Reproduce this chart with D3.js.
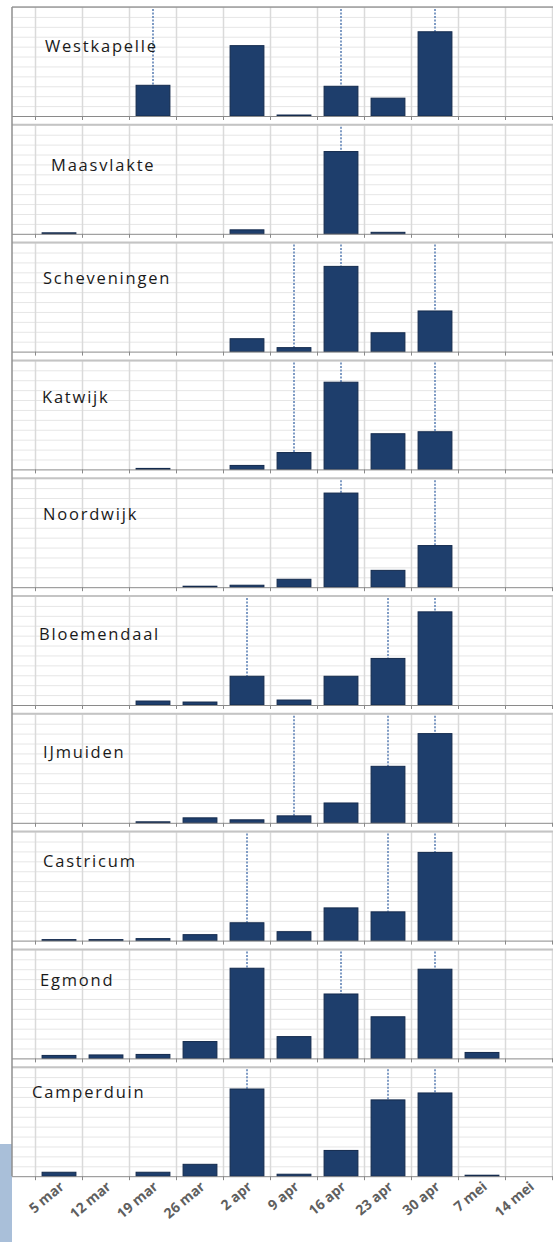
<!DOCTYPE html>
<html>
<head>
<meta charset="utf-8">
<script src="https://d3js.org/d3.v7.min.js"></script>
<title>Stations per week</title>
<style>
  body { margin: 0; background: #fff; }
  svg { display: block; }
  .station { font-family: "Open Sans", "DejaVu Sans", sans-serif; font-size: 16.5px; letter-spacing: 1.8px; fill: #1a1a1a; }
  .xlab { font-family: "Open Sans", "DejaVu Sans", sans-serif; font-size: 14px; font-weight: 700; fill: #5f5f5f; }
</style>
</head>
<body>
<div id="chart"></div>
<script>
// weeks on the x axis
const categories = ["5 mar", "12 mar", "19 mar", "26 mar", "2 apr", "9 apr", "16 apr", "23 apr", "30 apr", "7 mei", "14 mei"];

// station names, top to bottom
const stations = ["Westkapelle", "Maasvlakte", "Scheveningen", "Katwijk", "Noordwijk",
                  "Bloemendaal", "IJmuiden", "Castricum", "Egmond", "Camperduin"];

// bar values per station (each panel on its own scale)
const westkapelle  = [0, 0, 31, 0, 71, 1, 30, 18, 85, 0, 0];
const maasvlakte   = [1, 0, 0, 0, 4, 0, 83, 1.5, 0, 0, 0];
const scheveningen = [0, 0, 0, 0, 13, 4, 86, 19, 41, 0, 0];
const katwijk      = [0, 0, 1, 0, 4, 17, 88, 36, 38, 0, 0];
const noordwijk    = [0, 0, 0, 1, 2, 8, 95, 17, 42, 0, 0];
const bloemendaal  = [0, 0, 4, 3, 29, 5, 29, 47, 94, 0, 0];
const ijmuiden     = [0, 0, 1, 5, 3, 7, 20, 57, 90, 0, 0];
const castricum    = [1, 1, 2, 6, 18, 9, 33, 29, 89, 0, 0];
const egmond       = [3, 3.5, 4, 17, 91, 22, 65, 42, 90, 6, 0];
const camperduin   = [4, 0, 4, 12, 88, 2, 26, 77, 84, 1, 0];

// weeks with a dotted line above the bar
const markWestkapelle  = ["19 mar", "16 apr", "30 apr"];
const markMaasvlakte   = ["16 apr"];
const markScheveningen = ["9 apr", "16 apr", "30 apr"];
const markKatwijk      = ["9 apr", "16 apr", "30 apr"];
const markNoordwijk    = ["16 apr", "30 apr"];
const markBloemendaal  = ["2 apr", "23 apr", "30 apr"];
const markIJmuiden     = ["9 apr", "23 apr", "30 apr"];
const markCastricum    = ["2 apr", "23 apr", "30 apr"];
const markEgmond       = ["2 apr", "16 apr", "30 apr"];
const markCamperduin   = ["2 apr", "23 apr", "30 apr"];

const yMax = 110;
const yTicks = d3.range(0, 111, 10);

const series = [westkapelle, maasvlakte, scheveningen, katwijk, noordwijk,
                bloemendaal, ijmuiden, castricum, egmond, camperduin];
const marks = [markWestkapelle, markMaasvlakte, markScheveningen, markKatwijk, markNoordwijk,
               markBloemendaal, markIJmuiden, markCastricum, markEgmond, markCamperduin];

// layout
const W = 553, H = 1242;
const left = 12, firstTop = 7, pitch = 117.8, plotH = 109;
const labelX = [45, 51, 43, 42, 43, 39, 43, 43, 40, 32];
const labelDy = [45, 46, 41, 43, 42, 44, 44, 35, 37, 31];

const svg = d3.select("#chart").append("svg")
  .attr("width", W)
  .attr("height", H);

svg.append("rect").attr("width", W).attr("height", H).attr("fill", "#fff");

// pale blue block in the bottom-left corner
svg.append("rect")
  .attr("x", 0).attr("y", 1144)
  .attr("width", left).attr("height", H - 1144)
  .attr("fill", "#a9bfd9");

const x = d3.scaleBand()
  .domain(categories)
  .range([35.5, 552.5])
  .paddingInner(0.28)
  .paddingOuter(0.14);

const step = x.step();
const bounds = categories.map(c => x(c) + x.bandwidth() / 2 - step / 2);
bounds.push(x(categories[categories.length - 1]) + x.bandwidth() / 2 + step / 2);

stations.forEach(function(name, i) {
  const top = firstTop + i * pitch;
  const base = top + plotH;
  const y = d3.scaleLinear().domain([0, yMax]).range([base, top]);
  const data = categories.map((c, k) => ({ cat: c, v: series[i][k] }));
  const g = svg.append("g");

  // horizontal grid
  g.selectAll(".hg").data(yTicks.slice(1)).enter()
    .append("line")
    .attr("x1", left).attr("x2", W)
    .attr("y1", d => y(d) + 0.5).attr("y2", d => y(d) + 0.5)
    .attr("stroke", "#e6e6e6").attr("stroke-width", 1);

  // vertical grid at week boundaries
  g.selectAll(".vg").data(bounds).enter()
    .append("line")
    .attr("x1", d => d).attr("x2", d => d)
    .attr("y1", top).attr("y2", base)
    .attr("stroke", "#dadada").attr("stroke-width", 1.5);

  // panel top edge
  g.append("line")
    .attr("x1", left).attr("x2", W)
    .attr("y1", top).attr("y2", top)
    .attr("stroke", i === 0 ? "#6f6f6f" : "#c4c4c4")
    .attr("stroke-width", i === 0 ? 1.2 : 2);

  // dotted lines over marked bars
  g.selectAll(".dot").data(data.filter(d => marks[i].includes(d.cat))).enter()
    .append("line")
    .attr("x1", d => x(d.cat) + x.bandwidth() / 2)
    .attr("x2", d => x(d.cat) + x.bandwidth() / 2)
    .attr("y1", top + 2)
    .attr("y2", d => y(d.v))
    .attr("stroke", "#7f9bc4")
    .attr("stroke-width", 2)
    .attr("stroke-dasharray", "2,1.5");

  // bars
  g.selectAll(".bar").data(data.filter(d => d.v > 0)).enter()
    .append("rect")
    .attr("x", d => x(d.cat))
    .attr("y", d => y(d.v))
    .attr("width", x.bandwidth())
    .attr("height", d => base - y(d.v))
    .attr("fill", "#1e3e6c")
    .attr("stroke", "#132a4d")
    .attr("stroke-width", 1);

  // baseline with ticks
  const axis = d3.axisBottom(x).tickSize(0).tickFormat("");
  const ax = g.append("g").attr("transform", "translate(0," + base + ")").call(axis);
  ax.select(".domain").remove();
  g.append("line")
    .attr("x1", left).attr("x2", W)
    .attr("y1", base + 0.5).attr("y2", base + 0.5)
    .attr("stroke", "#8a8a8a").attr("stroke-width", 1);
  g.selectAll(".tk").data(bounds).enter()
    .append("line")
    .attr("x1", d => d).attr("x2", d => d)
    .attr("y1", base).attr("y2", base + 4)
    .attr("stroke", "#8a8a8a");

  // station name
  g.append("text")
    .attr("class", "station")
    .attr("x", labelX[i])
    .attr("y", top + labelDy[i])
    .text(name);

  // week labels only under the last panel
  if (i === stations.length - 1) {
    g.selectAll(".xlab").data(categories).enter()
      .append("text")
      .attr("class", "xlab")
      .attr("text-anchor", "end")
      .attr("transform", d => "translate(" + (x(d) + x.bandwidth() / 2 + 6) + "," + (base + 12) + ") rotate(-40)")
      .text(d => d);
  }
});

// left frame edge
svg.append("line")
  .attr("x1", left).attr("x2", left)
  .attr("y1", firstTop).attr("y2", firstTop + 9 * pitch + plotH)
  .attr("stroke", "#8f8f8f").attr("stroke-width", 1.5);
</script>
</body>
</html>
